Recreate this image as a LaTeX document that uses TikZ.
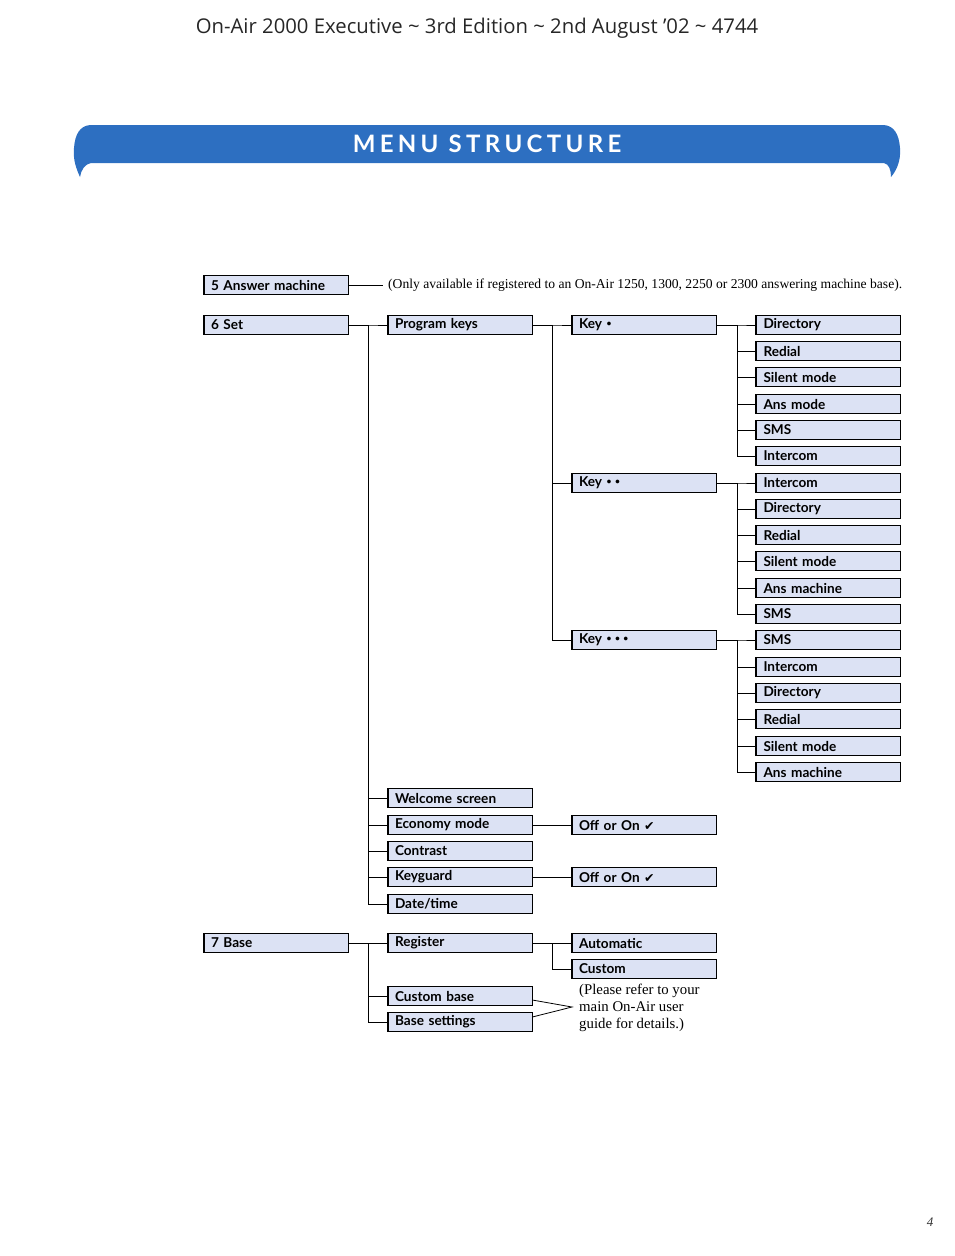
\documentclass[tikz,border=0pt]{standalone}
\usepackage{fontspec}
\setmainfont{Liberation Serif}
\setsansfont{Lato}
\newfontfamily\headfont{Open Sans}
\newfontfamily\titlefont[LetterSpace=18]{Lato}
\newfontfamily\symfont{DejaVu Sans}
\definecolor{boxfill}{HTML}{DCE2F4}
\definecolor{bannerblue}{HTML}{2D6FC1}
\newcommand{\menubox}[4]{%
  \node[mb] (#1) at (#2,#3) {#4};
  \draw[line width=1.6pt, line join=miter] (#1.north west) -- (#1.south west) -- (#1.south east);}
\newcommand{\chk}{{\symfont\fontsize{12.5}{12}\selectfont ✔}}
\newcommand{\kb}{\raisebox{0.3ex}{\fontsize{8.5}{8}\selectfont\textbullet}}
\newcommand{\kbs}{\kern3.5pt}
\tikzset{
  mb/.style={draw=black, line width=0.7pt, fill=boxfill, minimum width=144pt, minimum height=18.5pt,
    text width=130pt, inner xsep=7pt, inner ysep=0pt, align=left,
    font=\sffamily\bfseries\fontsize{13.6}{15}\selectfont},
  conn/.style={line width=0.8pt}
}
\begin{document}
\begin{tikzpicture}[x=1pt,y=-1pt]
\path[use as bounding box] (0,0) rectangle (954,1256);
% header
\node[font=\headfont\fontsize{20.3}{23}\selectfont, text=black!85] (hdr) at (477,28) {On-Air 2000 Executive \textasciitilde{} 3rd Edition \textasciitilde{} 2nd August ’02 \textasciitilde{} 4744};
% banner
\fill[bannerblue] (80,177) .. controls (76,168) and (73,160) .. (74,148) .. controls (75,134) and (80,126) .. (90,125) -- (884,125) .. controls (894,126) and (899,134) .. (900,148) .. controls (901,160) and (897,170) .. (891,177) .. controls (891,170) and (889,164) .. (884,163) -- (91,163) .. controls (85,164) and (81,170) .. (80,177) -- cycle;
\node[text=white, font=\titlefont\bfseries\fontsize{24}{26}\selectfont] (title) at (487,144) {MENU STRUCTURE};

% column 1
\menubox{ans}{276}{285}{5 Answer machine}
\menubox{set}{276}{325}{6 Set}
\menubox{base}{276}{943}{7 Base}
\coordinate (anse) at (383,285);
\draw[conn] (ans.east) -- (anse);
\node[anchor=west, inner sep=0pt, font=\fontsize{13.6}{15}\selectfont] (anstxt) at ([xshift=5pt]anse) {(Only available if registered to an On-Air 1250, 1300, 2250 or 2300 answering machine base).};

% column 2
\menubox{pk}{460}{325}{Program keys}
\menubox{wel}{460}{798}{Welcome screen}
\menubox{eco}{460}{825}{Economy mode}
\menubox{con}{460}{851}{Contrast}
\menubox{kg}{460}{877}{Keyguard}
\menubox{dt}{460}{904}{Date/time}
\menubox{reg}{460}{943}{Register}
\menubox{cb}{460}{996}{Custom base}
\menubox{bs}{460}{1022}{Base settings}

% column 3
\menubox{k1}{644}{325}{Key \kb}
\menubox{k2}{644}{483}{Key \kb\kbs\kb}
\menubox{k3}{644}{640}{Key \kb\kbs\kb\kbs\kb}
\menubox{eon}{644}{825}{Off or On \chk}
\menubox{kon}{644}{877}{Off or On \chk}
\menubox{auto}{644}{943}{Automatic}
\menubox{cust}{644}{969}{Custom}

% column 4
\menubox{a1}{828.5}{325}{Directory}
\menubox{a2}{828.5}{351}{Redial}
\menubox{a3}{828.5}{377}{Silent mode}
\menubox{a4}{828.5}{404}{Ans mode}
\menubox{a5}{828.5}{430}{SMS}
\menubox{a6}{828.5}{456}{Intercom}
\menubox{b1}{828.5}{483}{Intercom}
\menubox{b2}{828.5}{509}{Directory}
\menubox{b3}{828.5}{535}{Redial}
\menubox{b4}{828.5}{561}{Silent mode}
\menubox{b5}{828.5}{588}{Ans machine}
\menubox{b6}{828.5}{614}{SMS}
\menubox{c1}{828.5}{640}{SMS}
\menubox{c2}{828.5}{667}{Intercom}
\menubox{c3}{828.5}{693}{Directory}
\menubox{c4}{828.5}{719}{Redial}
\menubox{c5}{828.5}{746}{Silent mode}
\menubox{c6}{828.5}{772}{Ans machine}

% connectors
\foreach \c in {pk,wel,eco,con,kg,dt} \draw[conn] (set.east) -- ++(20,0) |- (\c.west);
\foreach \c in {reg,cb,bs} \draw[conn] (base.east) -- ++(20,0) |- (\c.west);
\foreach \c in {k1,k2,k3} \draw[conn] (pk.east) -- ++(20,0) |- (\c.west);
\foreach \c in {a1,a2,a3,a4,a5,a6} \draw[conn] (k1.east) -- ++(21,0) |- (\c.west);
\foreach \c in {b1,b2,b3,b4,b5,b6} \draw[conn] (k2.east) -- ++(21,0) |- (\c.west);
\foreach \c in {c1,c2,c3,c4,c5,c6} \draw[conn] (k3.east) -- ++(21,0) |- (\c.west);
\foreach \c in {auto,cust} \draw[conn] (reg.east) -- ++(20,0) |- (\c.west);
\draw[conn] (eco.east) -- (eon.west);
\draw[conn] (kg.east) -- (kon.west);

% note
\coordinate (apex) at (572,1007);
\draw[conn] ([yshift=-4pt]cb.east) -- (apex) -- ([yshift=5pt]bs.east);
\node[anchor=north west, align=left, inner sep=0pt, font=\fontsize{14.8}{17}\selectfont] (note) at (579,984) {(Please refer to your\\main On-Air user\\guide for details.)};

% page number
\node[font=\itshape\fontsize{13}{14}\selectfont, text=black!80] (pg) at (930,1222) {4};
\end{tikzpicture}
\end{document}
